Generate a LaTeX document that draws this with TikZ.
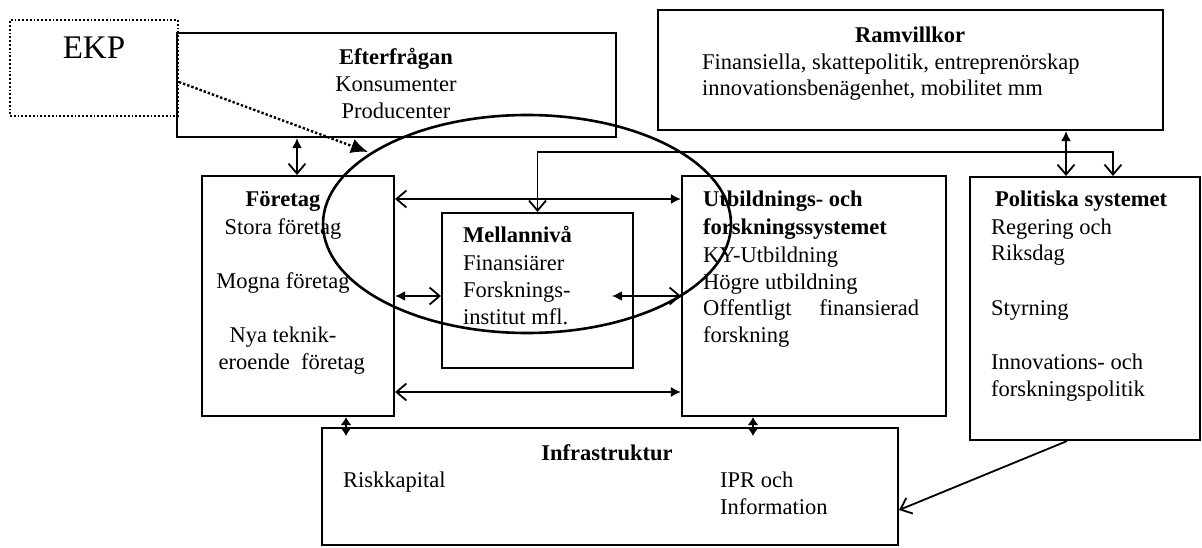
\documentclass[tikz,border=0pt]{standalone}
\usepackage{fontspec}
\setmainfont{Liberation Serif}
\usetikzlibrary{arrows.meta,shapes.geometric,fit}
\tikzset{
  tipF/.tip={Latex[length=10pt,width=10pt]},
  tipS/.tip={Latex[length=8pt,width=11pt]},
  tipO/.tip={Straight Barb[length=10pt,width=17pt]},
  tipB/.tip={Latex[length=17pt,width=15pt]},
}
\begin{document}
\begin{tikzpicture}[x=1pt,y=-1pt,
  box/.style={draw, line width=2.1pt, inner sep=0pt},
  dotbox/.style={draw, dotted, line width=1.8pt, inner sep=0pt},
  txt/.style={inner sep=0pt, font=\fontsize{22.5}{27}\selectfont},
  hd/.style={inner sep=0pt, font=\fontsize{22.5}{27}\selectfont\bfseries},
  link/.style={line width=1.8pt},
  oval/.style={draw, ellipse, line width=2.6pt, inner sep=0pt},
]
\useasboundingbox (0,0) rectangle (1202,548);

% boxes
\node[dotbox, fit={(10,20) (178,116)}] (ekp) {};
\node[box, fit={(177,33) (616,137)}] (efter) {};
\node[box, fit={(658,10) (1163,130)}] (ram) {};
\node[box, fit={(202,176) (394,416)}] (foe) {};
\node[box, fit={(442,213) (633,368)}] (mel) {};
\node[box, fit={(682,176) (946,416)}] (utb) {};
\node[box, fit={(970,177) (1200,440)}] (pol) {};
\node[box, fit={(322,428) (898,545)}] (infra) {};

% texts
\node[txt, font=\fontsize{33}{40}\selectfont, anchor=base] (ekpT) at (94,59) {EKP};

\node[hd, anchor=base] (efterT) at (396,65) {Efterfrågan};
\node[txt, anchor=base] (efter1) at (396,92) {Konsumenter};
\node[txt, anchor=base] (efter2) at (396,119) {Producenter};

\node[hd, anchor=base] (ramT) at (910,43) {Ramvillkor};
\node[txt, anchor=base west] (ram1) at (702,70) {Finansiella, skattepolitik, entreprenörskap};
\node[txt, anchor=base west] (ram2) at (702,96) {innovationsbenägenhet, mobilitet mm};

\node[hd, anchor=base] (foeT) at (283,207) {Företag};
\node[txt, anchor=base] (foe1) at (283,234) {Stora företag};
\node[txt, anchor=base] (foe2) at (283,288) {Mogna företag};
\node[txt, anchor=base] (foe3) at (283,342) {Nya teknik-};
\node[txt, anchor=base east] (foe4) at (365,369) {eroende\ \ företag};

\node[hd, anchor=base west] (melT) at (463,243) {Mellannivå};
\node[txt, anchor=base west] (mel1) at (463,270) {Finansiärer};
\node[txt, anchor=base west] (mel2) at (463,297) {Forsknings-};
\node[txt, anchor=base west] (mel3) at (463,324) {institut mfl.};

\node[hd, anchor=base west] (utbT1) at (703,207) {Utbildnings- och};
\node[hd, anchor=base west] (utbT2) at (703,235) {forskningssystemet};
\node[txt, anchor=base west] (utb1) at (703,262) {KY-Utbildning};
\node[txt, anchor=base west] (utb2) at (703,289) {Högre utbildning};
\node[txt, anchor=base west] (utb3) at (703,315) {\makebox[216pt][l]{Offentligt\hfill finansierad}};
\node[txt, anchor=base west] (utb4) at (703,342) {forskning};

\node[hd, anchor=base west] (polT) at (995,207) {Politiska systemet};
\node[txt, anchor=base west] (pol1) at (991,234) {Regering och};
\node[txt, anchor=base west] (pol2) at (991,261) {Riksdag};
\node[txt, anchor=base west] (pol3) at (991,315) {Styrning};
\node[txt, anchor=base west] (pol4) at (991,369) {Innovations- och};
\node[txt, anchor=base west] (pol5) at (991,396) {forskningspolitik};

\node[hd, anchor=base] (infraT) at (607,460) {Infrastruktur};
\node[txt, anchor=base west] (infra1) at (343,487) {Riskkapital};
\node[txt, anchor=base west] (infra2) at (720,487) {IPR och};
\node[txt, anchor=base west] (infra3) at (720,514) {Information};

% the oval around the middle
\node[oval, minimum width=408pt, minimum height=218pt] (ring) at (527,224) {};

% reference points for connector positions
\coordinate (xEF) at (297,0);
\coordinate (yTop) at (0,199);
\coordinate (yMid) at (0,296);
\coordinate (yLow) at (0,392);
\coordinate (melIn) at (612,296);
\coordinate (xRam) at (1066,0);
\coordinate (bend) at (1113,152);
\coordinate (xFI) at (346,0);
\coordinate (xUI) at (753,0);
\coordinate (yIn) at (0,436);
\coordinate (xPol) at (1067,0);
\coordinate (yInf) at (0,510);
\coordinate (yEkp) at (0,82);
\coordinate (ringHit) at (368,152);

% connectors
\draw[link, tipF-tipO] (efter.south -| xEF) -- (foe.north -| xEF);
\draw[link, tipO-tipF] (foe.east |- yTop) -- (utb.west |- yTop);
\draw[link, tipO-tipF] (foe.east |- yLow) -- (utb.west |- yLow);
\draw[link, tipF-tipO] (foe.east |- yMid) -- (mel.west |- yMid);
\draw[link, tipF-tipO] (melIn) -- (utb.west |- yMid);
\draw[link, tipF-tipO] (ram.south -| xRam) -- (pol.north -| xRam);
\draw[link, tipO-tipO] (mel.north) |- (bend) -- (pol.north -| bend);
\draw[link, tipS-tipS] (foe.south -| xFI) -- (xFI |- yIn);
\draw[link, tipS-tipS] (utb.south -| xUI) -- (xUI |- yIn);
\draw[link, -tipO] (pol.south -| xPol) -- (infra.east |- yInf);
\draw[line width=2.4pt, dotted, -tipB] (ekp.east |- yEkp) -- (ringHit);
\end{tikzpicture}
\end{document}
